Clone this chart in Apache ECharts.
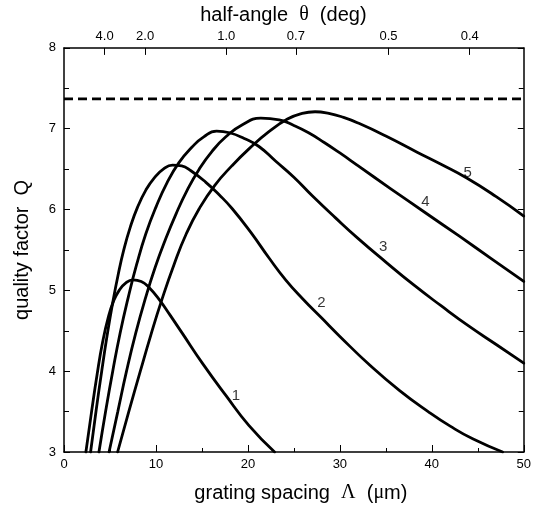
<!DOCTYPE html>
<html>
<head>
<meta charset="utf-8">
<script src="https://cdn.jsdelivr.net/npm/echarts@6/dist/echarts.min.js"></script>
<style>html,body{margin:0;padding:0;background:#fff}#c{width:534px;height:513px}</style>
</head>
<body>
<div id="c"></div>
<script>
// ---- data ----
const curveNames = ['1', '2', '3', '4', '5'];
const curve1 = [[2.38,3.0],[3.0,3.5],[3.6,3.96],[4.2,4.36],[4.8,4.66],[5.4,4.87],[6.0,5.0],[6.7,5.09],[7.5,5.13],[8.4,5.11],[9.3,5.03],[10.4,4.88],[11.5,4.70],[12.8,4.48],[15.1,4.09],[17.6,3.70],[20.1,3.33],[22.9,3.0]];
const curve2 = [[2.89,3.0],[3.5,3.52],[4.1,4.0],[4.7,4.45],[5.3,4.85],[5.9,5.2],[6.5,5.5],[7.2,5.78],[8.0,6.03],[8.9,6.24],[9.8,6.39],[10.8,6.50],[11.8,6.55],[12.8,6.54],[13.8,6.48],[15.4,6.34],[16.9,6.18],[18.3,6.01],[20.3,5.72],[22.3,5.40],[24.1,5.13],[26.0,4.89],[28.0,4.66],[30.0,4.43],[33.3,4.07],[36.5,3.76],[39.6,3.50],[42.0,3.32],[44.5,3.16],[47.7,3.0]];
const curve3 = [[3.8,3.0],[4.55,3.52],[5.3,4.0],[6.1,4.47],[7.0,4.92],[7.9,5.32],[8.9,5.70],[10.0,6.03],[11.2,6.33],[12.5,6.58],[13.9,6.77],[15.2,6.90],[16.6,6.97],[18.0,6.95],[19.6,6.88],[21.2,6.78],[23.0,6.60],[25.0,6.40],[27.0,6.17],[29.5,5.90],[32.0,5.64],[35.0,5.35],[38.0,5.07],[41.0,4.81],[44.0,4.56],[47.0,4.33],[50,4.10]];
const curve4 = [[4.9,3.0],[5.85,3.5],[6.8,4.0],[7.8,4.47],[8.85,4.9],[9.9,5.28],[11.0,5.62],[12.2,5.95],[13.4,6.24],[14.7,6.50],[16.1,6.72],[17.6,6.90],[19.4,7.05],[21.4,7.13],[23.4,7.11],[25.0,7.04],[26.6,6.95],[28.3,6.83],[30.0,6.70],[32.0,6.54],[35.5,6.26],[39.3,5.96],[43.0,5.67],[46.5,5.39],[50,5.11]];
const curve5 = [[5.83,3.0],[7.0,3.48],[8.3,4.0],[9.45,4.45],[10.6,4.87],[12.0,5.33],[13.3,5.70],[14.7,6.01],[16.4,6.30],[18.25,6.54],[20.2,6.76],[22.25,6.96],[24.3,7.12],[25.9,7.19],[27.3,7.21],[28.8,7.19],[30.4,7.14],[32.0,7.07],[35.0,6.91],[38.4,6.71],[41.0,6.56],[43.8,6.39],[47.0,6.16],[50,5.92]];
const curveLabelAt = [[18.7,3.70],[28.0,4.84],[34.7,5.54],[39.3,6.10],[43.9,6.46]];
const limitQ = 7.37;               // dashed limit line
const wavelength = 0.616;          // µm, relates Λ to half-angle θ
const thetaTicks = [4.0, 2.0, 1.0, 0.7, 0.5, 0.4];  // deg
const thetaTickLabels = ['4.0', '2.0', '1.0', '0.7', '0.5', '0.4'];
const xTicks = { min: 0, max: 50, interval: 10 };
const yTicks = { min: 3, max: 8, interval: 1 };

// top-axis positions (grating spacing for each half-angle)
const thetaPos = thetaTicks.map(t => wavelength / (2 * Math.sin(t * Math.PI / 180)));

const curves = [curve1, curve2, curve3, curve4, curve5];
const FONT = 'Liberation Sans, Arial, sans-serif';
const SERIF = 'Liberation Serif, Times New Roman, serif';
const axisLine = { show: true, onZero: false, lineStyle: { color: '#000', width: 1.5 } };

const chart = echarts.init(document.getElementById('c'));
const series = curves.map((d, i) => ({
  type: 'line', name: curveNames[i], data: d, smooth: 0.5, showSymbol: false, symbol: 'none',
  xAxisIndex: 0, yAxisIndex: 0,
  lineStyle: { color: '#000', width: 2.8, join: 'round', cap: 'round' }, animation: false, z: 3
}));
series.push({
  type: 'line', name: 'limit', data: [[xTicks.min, limitQ], [xTicks.max, limitQ]],
  showSymbol: false, symbol: 'none', xAxisIndex: 0, yAxisIndex: 0,
  lineStyle: { color: '#000', width: 2.8, type: [9, 5] }, animation: false
});
series.push({
  type: 'scatter', name: 'labels', symbolSize: 0, xAxisIndex: 0, yAxisIndex: 0,
  data: curveLabelAt.map((p, i) => ({ value: p, name: curveNames[i] })),
  label: { show: true, position: 'inside', formatter: p => p.name, color: '#000', fontSize: 15, fontFamily: FONT },
  animation: false, silent: true
});

chart.setOption({
  animation: false,
  backgroundColor: '#fff',
  grid: { left: 64, right: 7, top: 45, bottom: 61, containLabel: false },
  xAxis: [{
    type: 'value', position: 'bottom', min: xTicks.min, max: xTicks.max, interval: xTicks.interval,
    axisLine: axisLine,
    axisTick: { show: true, inside: true, length: 7, lineStyle: { color: '#000', width: 1 } },
    minorTick: { show: true, splitNumber: 2, length: 4, lineStyle: { color: '#000', width: 1 } },
    axisLabel: { color: '#000', fontSize: 13, fontFamily: FONT, margin: 6 },
    splitLine: { show: false },
    name: 'grating spacing  {g|Λ}  ({g|μ}m)', nameLocation: 'middle', nameGap: 31,
    nameTextStyle: { color: '#000', fontSize: 20, fontFamily: FONT, padding: [0, 0, 0, 14],
      rich: { g: { fontFamily: SERIF, fontSize: 20, color: '#000' } } }
  }, {
    type: 'value', position: 'top', min: xTicks.min, max: xTicks.max,
    axisLine: axisLine,
    axisTick: { show: true, inside: true, length: 7, customValues: thetaPos, lineStyle: { color: '#000', width: 1 } },
    axisLabel: { show: true, color: '#000', fontSize: 13, fontFamily: FONT, margin: 5, customValues: thetaPos,
      formatter: v => { const i = thetaPos.findIndex(p => Math.abs(p - v) < 1e-6); return i >= 0 ? thetaTickLabels[i] : ''; } },
    splitLine: { show: false },
    name: 'half-angle  {g|θ}  (deg)', nameLocation: 'middle', nameGap: 22,
    nameTextStyle: { color: '#000', fontSize: 20, fontFamily: FONT, padding: [0, 21, 0, 0],
      rich: { g: { fontFamily: SERIF, fontSize: 20, color: '#000' } } }
  }],
  yAxis: [{
    type: 'value', position: 'left', min: yTicks.min, max: yTicks.max, interval: yTicks.interval,
    axisLine: axisLine,
    axisTick: { show: true, inside: true, length: 6, lineStyle: { color: '#000', width: 1 } },
    minorTick: { show: true, splitNumber: 2, length: 5, lineStyle: { color: '#000', width: 1 } },
    axisLabel: { color: '#000', fontSize: 13, fontFamily: FONT, margin: 8 },
    splitLine: { show: false },
    name: 'quality factor  Q', nameLocation: 'middle', nameGap: 32, nameRotate: 90,
    nameTextStyle: { color: '#000', fontSize: 20, fontFamily: FONT }
  }, {
    type: 'value', position: 'right', min: yTicks.min, max: yTicks.max, interval: yTicks.interval,
    axisLine: axisLine,
    axisTick: { show: true, inside: true, length: 6, lineStyle: { color: '#000', width: 1 } },
    minorTick: { show: true, splitNumber: 2, length: 5, lineStyle: { color: '#000', width: 1 } },
    axisLabel: { show: false },
    splitLine: { show: false }
  }],
  series: series
});
</script>
</body>
</html>
